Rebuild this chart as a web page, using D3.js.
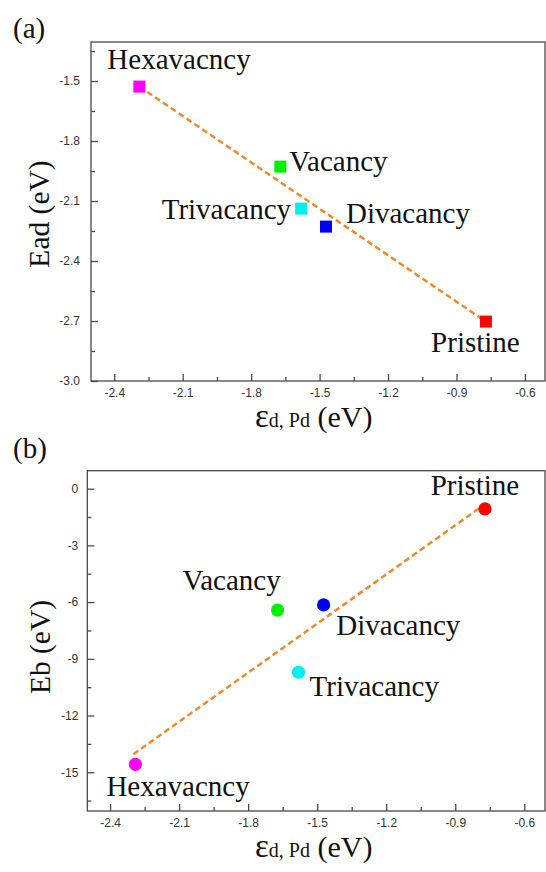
<!DOCTYPE html>
<html>
<head>
<meta charset="utf-8">
<script src="https://cdn.jsdelivr.net/npm/d3@7"></script>
<style>
  html, body { margin: 0; padding: 0; background: #fff; }
  svg { display: block; }
</style>
</head>
<body>
<svg id="chart" width="546" height="872"></svg>
<script>
// ---------- data ----------
const categories = ["Hexavacncy", "Vacancy", "Trivacancy", "Divacancy", "Pristine"];
const colors = ["#ff00ff", "#00ee00", "#00f0f0", "#0000ff", "#ff0000"];
const epsD = [-2.29, -1.672, -1.581, -1.472, -0.771];      // εd,Pd (eV)
const eadValues = [-1.528, -1.928, -2.138, -2.228, -2.703]; // Ead (eV), panel (a)
const ebValues = [-14.58, -6.42, -9.71, -6.15, -1.07];      // Eb (eV), panel (b)
const fitAx = [-2.29, -0.775], fitAy = [-1.528, -2.70];
const fitBx = [-2.299, -0.796], fitBy = [-14.05, -1.04];
const xTicks = [-2.4, -2.1, -1.8, -1.5, -1.2, -0.9, -0.6];
const yTicksA = [-3.0, -2.7, -2.4, -2.1, -1.8, -1.5];
const yTicksB = [-15, -12, -9, -6, -3, 0];

// label offsets (pixels relative to marker)
const labelA = {
  "Hexavacncy": {dx: -32, dy: -17.5, anchor: "start"},
  "Vacancy":    {dx: 9, dy: 4.5, anchor: "start"},
  "Trivacancy": {dx: -10, dy: 10, anchor: "end"},
  "Divacancy":  {dx: 20, dy: -4, anchor: "start"},
  "Pristine":   {dx: -10.5, dy: 30.5, anchor: "middle"}
};
const labelB = {
  "Hexavacncy": {dx: -29, dy: 31.5, anchor: "start"},
  "Vacancy":    {dx: -46, dy: -20, anchor: "middle"},
  "Trivacancy": {dx: 11, dy: 24, anchor: "start"},
  "Divacancy":  {dx: 12.7, dy: 30, anchor: "start"},
  "Pristine":   {dx: -10, dy: -14, anchor: "middle"}
};

const svg = d3.select("#chart");
const serif = "'Liberation Serif', 'Times New Roman', 'DejaVu Serif', serif";
const sans = "'Liberation Sans', Arial, sans-serif";
const axisColor = "#4a4a4a";
const hy = s => s.replace(/\u2212/g, "-");

function mid(t) { const m = []; for (let i = 0; i < t.length - 1; i++) m.push((t[i] + t[i+1]) / 2); return m; }

function panel(opt) {
  const x = d3.scaleLinear().domain(opt.xDomain).range([opt.left, opt.right]);
  const y = d3.scaleLinear().domain(opt.yDomain).range([opt.bottom, opt.top]);
  const g = svg.append("g");

  // frame
  g.append("rect").attr("x", opt.left).attr("y", opt.top)
    .attr("width", opt.right - opt.left).attr("height", opt.bottom - opt.top)
    .attr("fill", "none").attr("stroke", axisColor).attr("stroke-width", 1.3);

  // minor ticks
  const xMinor = mid(opt.xTicks).concat([opt.xTicks[0] - 0.15, opt.xTicks[opt.xTicks.length-1] + 0.15])
    .filter(v => v >= opt.xDomain[0] && v <= opt.xDomain[1]);
  const yStep = opt.yTicks[1] - opt.yTicks[0];
  const yMinor = mid(opt.yTicks).concat([opt.yTicks[0] - yStep/2, opt.yTicks[opt.yTicks.length-1] + yStep/2])
    .filter(v => v >= opt.yDomain[0] && v <= opt.yDomain[1]);

  const gxm = g.append("g").attr("transform", `translate(0,${opt.bottom})`)
    .call(d3.axisBottom(x).tickValues(xMinor).tickSize(-4).tickFormat(""));
  const gym = g.append("g").attr("transform", `translate(${opt.left},0)`)
    .call(d3.axisLeft(y).tickValues(yMinor).tickSize(-4).tickFormat(""));

  const gx = g.append("g").attr("transform", `translate(0,${opt.bottom})`)
    .call(d3.axisBottom(x).tickValues(opt.xTicks).tickSize(-7)
      .tickFormat(d => hy(d3.format(".1f")(d))));
  const gy = g.append("g").attr("transform", `translate(${opt.left},0)`)
    .call(d3.axisLeft(y).tickValues(opt.yTicks).tickSize(-7).tickPadding(opt.yPad)
      .tickFormat(d => hy(opt.yFormat(d))));

  [gxm, gym, gx, gy].forEach(a => {
    a.select(".domain").remove();
    a.selectAll("line").attr("stroke", axisColor).attr("stroke-width", 1.3);
    a.selectAll("text").attr("font-family", sans).attr("font-size", 12).attr("fill", "#333");
  });
  gx.selectAll("text").attr("dy", "0").attr("y", 16);

  // fit line
  const fit = opt.fitX.map((v, i) => [v, opt.fitY[i]]);
  g.append("path").datum(fit)
    .attr("d", d3.line().x(d => x(d[0])).y(d => y(d[1])))
    .attr("fill", "none").attr("stroke", "#ee8a2c").attr("stroke-width", 2.5)
    .attr("stroke-dasharray", "6,3.5");

  // markers
  const pts = categories.map((c, i) => ({c, x: epsD[i], y: opt.values[i], color: colors[i]}));
  if (opt.shape === "square") {
    const s = 12;
    g.selectAll("rect.pt").data(pts).join("rect").attr("class", "pt")
      .attr("x", d => x(d.x) - s/2).attr("y", d => y(d.y) - s/2)
      .attr("width", s).attr("height", s).attr("fill", d => d.color);
  } else {
    g.selectAll("circle.pt").data(pts).join("circle").attr("class", "pt")
      .attr("cx", d => x(d.x)).attr("cy", d => y(d.y)).attr("r", 6.6)
      .attr("fill", d => d.color);
  }

  // point labels
  g.selectAll("text.lbl").data(pts).join("text").attr("class", "lbl")
    .attr("x", d => x(d.x) + opt.labels[d.c].dx)
    .attr("y", d => y(d.y) + opt.labels[d.c].dy)
    .attr("text-anchor", d => opt.labels[d.c].anchor)
    .attr("font-family", serif).attr("font-size", 29).attr("fill", "#111")
    .text(d => d.c);

  // axis titles
  const xt = g.append("text").attr("x", 255).attr("y", opt.xTitleY)
    .attr("font-family", serif).attr("fill", "#111");
  xt.append("tspan").attr("font-size", 33).text("ε");
  xt.append("tspan").attr("font-size", 20).text("d, Pd");
  xt.append("tspan").attr("font-size", 30).text(" (eV)");

  g.append("text")
    .attr("transform", `translate(${opt.yTitleX},${opt.yTitleY}) rotate(-90)`)
    .attr("text-anchor", "middle").attr("font-family", serif).attr("font-size", 29.5)
    .attr("fill", "#111").text(opt.yTitle);

  g.append("text").attr("x", 13).attr("y", opt.tagY)
    .attr("font-family", serif).attr("font-size", 29).attr("fill", "#111").text(opt.tag);
}

panel({
  left: 91, right: 545, top: 42, bottom: 381,
  xDomain: [-2.502, -0.512], yDomain: [-3.0, -1.305],
  xTicks, yTicks: yTicksA, yFormat: d => d3.format(".1f")(d), yPad: 11,
  values: eadValues, fitX: fitAx, fitY: fitAy, shape: "square", labels: labelA,
  xTitleY: 427, yTitle: "Ead (eV)", yTitleX: 49, yTitleY: 214, tag: "(a)", tagY: 38
});

panel({
  left: 87.3, right: 545, top: 470.7, bottom: 811,
  xDomain: [-2.499, -0.51], yDomain: [-17.05, 0.95],
  xTicks, yTicks: yTicksB, yFormat: d => d3.format("d")(d), yPad: 9,
  values: ebValues, fitX: fitBx, fitY: fitBy, shape: "circle", labels: labelB,
  xTitleY: 857, yTitle: "Eb (eV)", yTitleX: 50, yTitleY: 647, tag: "(b)", tagY: 458
});
</script>
</body>
</html>
